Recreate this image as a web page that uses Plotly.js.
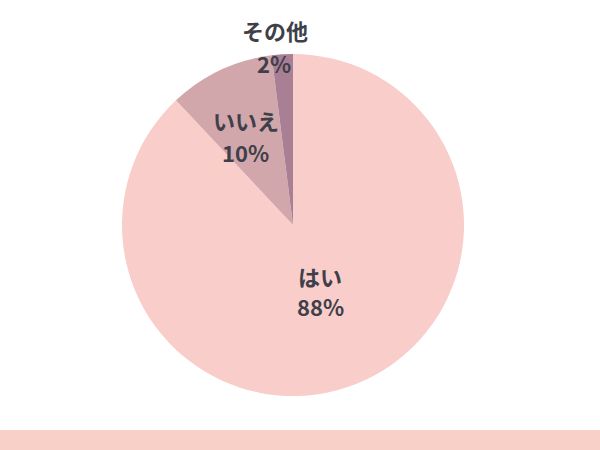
<!DOCTYPE html>
<html>
<head>
<meta charset="utf-8">
<script src="https://cdn.plot.ly/plotly-3.0.1.min.js"></script>
<style>
  html, body { margin: 0; padding: 0; background: #ffffff; }
  #chart { width: 600px; height: 450px; }
</style>
</head>
<body>
<div id="chart"></div>
<script>
// Answer breakdown
const labels = ['はい', 'いいえ', 'その他'];
const values = [88, 10, 2];
const colors = ['#f8cdca', '#d2a7ab', '#a97f96'];

const FONT = 'Noto Sans CJK JP, Noto Sans, sans-serif';
const TEXT_COLOR = '#3f3f4a';

// pie geometry in pixels (600x450 page)
const CX = 293, CY = 225, R = 171;

// label placement, pixels: [name x, name y, percent x, percent y]
const labelPos = [
    [320, 276, 320, 306],
    [246, 120, 245, 152],
    [275, 30, 274, 63]
];

function textAt(px, py, text) {
    return {
        xref: 'paper', yref: 'paper',
        x: px / 600, y: 1 - py / 450,
        xanchor: 'center', yanchor: 'middle',
        text: '<b>' + text + '</b>',
        showarrow: false,
        font: { family: FONT, size: 22, color: TEXT_COLOR }
    };
}

function createAnswerPie() {
    if (typeof Plotly === 'undefined') return;

    const annotations = [];
    labels.forEach((l, i) => {
        const p = labelPos[i];
        annotations.push(textAt(p[0], p[1], l));
        annotations.push(textAt(p[2], p[3], values[i] + '%'));
    });

    const trace = {
        type: 'pie',
        labels: labels,
        values: values,
        textinfo: 'none',
        hoverinfo: 'none',
        sort: false,
        direction: 'clockwise',
        rotation: 0,
        marker: { colors: colors, line: { width: 0 } },
        domain: { x: [(CX - R) / 600, (CX + R) / 600], y: [1 - (CY + R) / 450, 1 - (CY - R) / 450] }
    };

    const layout = {
        width: 600,
        height: 450,
        margin: { l: 0, r: 0, t: 0, b: 0 },
        paper_bgcolor: '#ffffff',
        showlegend: false,
        font: { family: FONT },
        annotations: annotations,
        shapes: [{
            type: 'rect', xref: 'paper', yref: 'paper',
            x0: 0, x1: 1, y0: 0, y1: 20 / 450,
            fillcolor: '#f9d0c7', line: { width: 0 }, layer: 'below'
        }]
    };

    try {
        Plotly.newPlot('chart', [trace], layout, { displayModeBar: false, staticPlot: true });
    } catch (error) {
        console.log('Error creating answer pie:', error);
    }
}

createAnswerPie();
</script>
</body>
</html>
